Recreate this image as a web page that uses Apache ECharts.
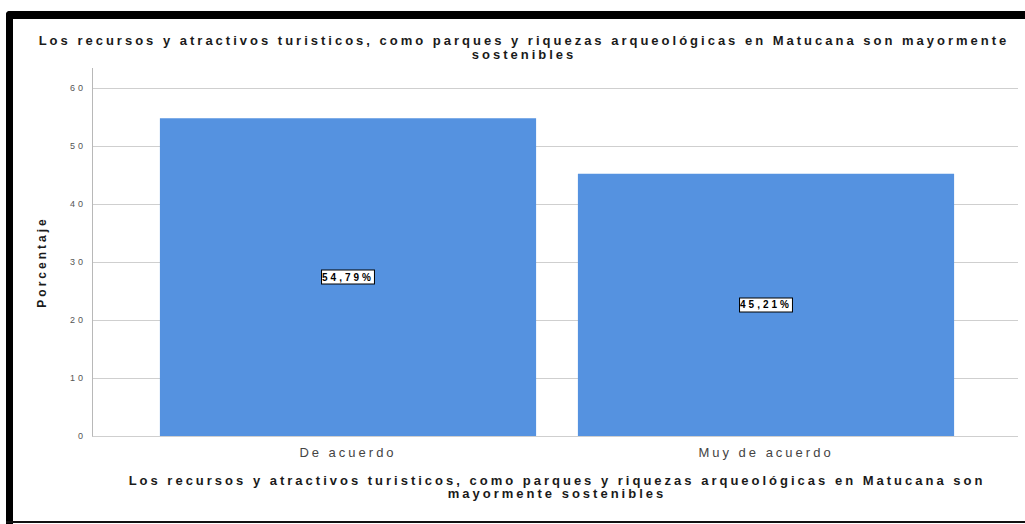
<!DOCTYPE html>
<html>
<head>
<meta charset="utf-8">
<script src="https://cdn.jsdelivr.net/npm/echarts@6/dist/echarts.min.js"></script>
<style>
html,body{margin:0;padding:0;background:#fff;}
#chart{width:1025px;height:524px;}
#chart svg text{letter-spacing:3px;}
</style>
</head>
<body>
<div id="chart"></div>
<script>
const categories = ['De acuerdo', 'Muy de acuerdo'];
const values = [54.79, 45.21];
const valueLabels = ['54,79%', '45,21%'];
const yTicks = [0, 10, 20, 30, 40, 50, 60];
const titleText = 'Los recursos y atractivos turisticos, como parques y riquezas arqueológicas en Matucana son mayormente\nsostenibles';
const xTitleText = 'Los recursos y atractivos turisticos, como parques y riquezas arqueológicas en Matucana son\nmayormente sostenibles';
const yTitleText = 'Porcentaje';

const chart = echarts.init(document.getElementById('chart'), null, {renderer: 'svg'});
const FONT = '"Liberation Sans", Arial, sans-serif';
const TOP = 88, BOTTOM = 88;

chart.setOption({
  animation: false,
  backgroundColor: '#ffffff',
  title: {
    text: titleText,
    left: 519, top: 28, textAlign: 'center',
    textStyle: {fontFamily: FONT, fontSize: 13, fontWeight: 'bold', color: '#1a1a1a', lineHeight: 14}
  },
  grid: [
    {left: 92, right: 7, top: TOP, bottom: BOTTOM},
    {left: 139, right: 50, top: TOP, bottom: BOTTOM}
  ],
  xAxis: [
    {gridIndex: 0, type: 'category', data: categories, show: false},
    {gridIndex: 1, type: 'category', data: categories,
     axisLine: {show: false}, axisTick: {show: false},
     axisLabel: {fontFamily: FONT, fontSize: 13, color: '#444', margin: 10},
     name: xTitleText, nameLocation: 'middle', nameGap: 38,
     nameTextStyle: {fontFamily: FONT, fontSize: 13, fontWeight: 'bold', color: '#1a1a1a', lineHeight: 13}
    }
  ],
  yAxis: [
    {gridIndex: 0, type: 'value', min: yTicks[0], max: yTicks[yTicks.length-1], interval: 10,
     axisLine: {show: true, lineStyle: {color: '#b8b8b8'}},
     axisTick: {show: false},
     axisLabel: {fontFamily: FONT, fontSize: 9, color: '#555', margin: 6},
     splitLine: {show: true, lineStyle: {color: '#cfcfcf', width: 1}},
     name: yTitleText, nameLocation: 'middle', nameGap: 44, nameRotate: 90,
     nameTextStyle: {fontFamily: FONT, fontSize: 12, fontWeight: 'bold', color: '#1a1a1a'}
    },
    {gridIndex: 1, type: 'value', min: yTicks[0], max: yTicks[yTicks.length-1], interval: 10, show: false}
  ],
  series: [{
    type: 'bar', xAxisIndex: 1, yAxisIndex: 1,
    data: values, barWidth: '90%',
    itemStyle: {color: '#5592e0'},
    label: {
      show: true, position: 'inside',
      formatter: p => valueLabels[p.dataIndex],
      fontFamily: FONT, fontSize: 10, fontWeight: 'bold', color: '#000',
      backgroundColor: '#fff', borderColor: '#000', borderWidth: 1,
      padding: [2, 9, 1, 9]
    }
  }],
  graphic: [
    {type: 'line', shape: {x1: 92.5, y1: 68, x2: 92.5, y2: 88}, style: {stroke: '#b8b8b8', lineWidth: 1}, silent: true},
    {type: 'rect', shape: {x: 6, y: 11, width: 1025, height: 8, r: [4, 0, 0, 0]}, style: {fill: '#000'}, silent: true},
    {type: 'rect', shape: {x: 6, y: 11, width: 7, height: 520, r: [4, 0, 0, 0]}, style: {fill: '#000'}, silent: true},
    {type: 'rect', shape: {x: 6, y: 521, width: 1025, height: 2}, style: {fill: '#111'}, silent: true}
  ]
});
</script>
</body>
</html>
